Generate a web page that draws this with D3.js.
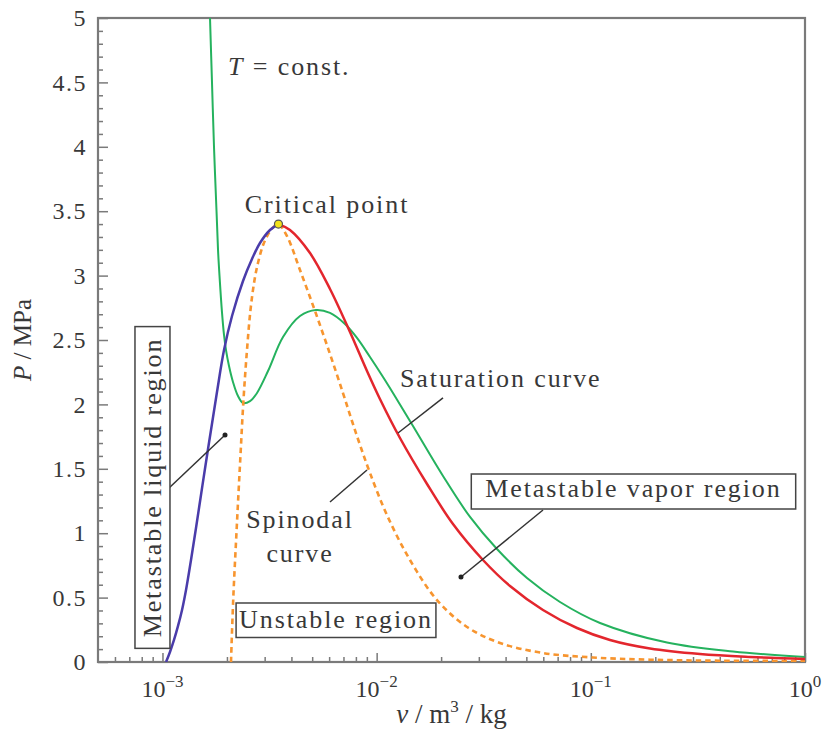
<!DOCTYPE html>
<html><head><meta charset="utf-8">
<script src="https://cdn.jsdelivr.net/npm/d3@7"></script>
<style>
body{margin:0;background:#fff;}
svg text{font-family:"Liberation Serif","Times New Roman",serif;fill:#383838;}
</style></head><body>
<svg id="chart" width="827" height="740"></svg>
<script>
// ---------------- data (v in m^3/kg, P in MPa) ----------------
const xTickExponents = [-3, -2, -1, 0];
const yTickValues = [0, 0.5, 1, 1.5, 2, 2.5, 3, 3.5, 4, 4.5, 5];
const criticalPoint = [3.48e-3, 3.40];

const saturatedLiquid = [
  [1.039e-3,0],[1.084e-3,0.078],[1.132e-3,0.171],[1.182e-3,0.280],[1.234e-3,0.404],
  [1.288e-3,0.559],[1.359e-3,0.792],[1.434e-3,1.040],[1.513e-3,1.297],[1.597e-3,1.553],
  [1.685e-3,1.801],[1.797e-3,2.096],[1.938e-3,2.422],[2.112e-3,2.686],[2.377e-3,2.958],
  [2.618e-3,3.129],[2.853e-3,3.253],[3.177e-3,3.354],[3.48e-3,3.40]
];
const saturatedVapor = [
  [3.48e-3,3.40],[3.939e-3,3.354],[4.884e-3,3.175],[6.056e-3,2.896],[7.508e-3,2.562],
  [9.015e-3,2.259],[1.036e-2,2.042],[1.285e-2,1.739],[1.719e-2,1.382],[2.272e-2,1.071],
  [3.137e-2,0.792],[4.194e-2,0.590],[5.980e-2,0.404],[8.617e-2,0.264],[0.1229,0.171],
  [0.1889,0.105],[0.3234,0.062],[0.5536,0.039],[1.0,0.023]
];
const spinodal = [
  [2.089e-3,0],[2.139e-3,0.481],[2.219e-3,1.025],[2.307e-3,1.568],[2.389e-3,2.034],
  [2.481e-3,2.422],[2.576e-3,2.733],[2.690e-3,2.966],[2.814e-3,3.121],[2.963e-3,3.245],
  [3.160e-3,3.339],[3.336e-3,3.385],[3.48e-3,3.40],[3.814e-3,3.307],[4.387e-3,3.043],
  [5.155e-3,2.725],[6.056e-3,2.391],[6.964e-3,2.088],[7.671e-3,1.871],[8.362e-3,1.685],
  [9.311e-3,1.467],[1.117e-2,1.141],[1.431e-2,0.792],[1.913e-2,0.481],[2.642e-2,0.272],
  [3.766e-2,0.148],[5.980e-2,0.070],[0.1023,0.035],[0.1889,0.018],[0.401,0.010],[1.0,0.008]
];
const isotherm = [
  [1.667e-3,5.0],[1.703e-3,4.5],[1.740e-3,4.0],[1.788e-3,3.5],[1.817e-3,3.2],
  [1.846e-3,3.0],[1.897e-3,2.710],[1.938e-3,2.539],[1.980e-3,2.422],[2.045e-3,2.298],
  [2.134e-3,2.174],[2.252e-3,2.065],[2.377e-3,2.011],[2.563e-3,2.026],[2.763e-3,2.089],
  [3.110e-3,2.259],[3.654e-3,2.523],[4.387e-3,2.686],[5.209e-3,2.733],[6.056e-3,2.710],
  [7.115e-3,2.624],[8.095e-3,2.516],[9.311e-3,2.368],[1.071e-2,2.213],[1.192e-2,2.089],
  [1.478e-2,1.832],[2.041e-2,1.444],[2.729e-2,1.126],[3.646e-2,0.877],[5.035e-2,0.652],
  [7.179e-2,0.466],[0.1104,0.303],[0.2268,0.151],[0.4611,0.081],[1.0,0.039]
];
// annotation texts
const labelTexts = {
  tconst: " = const.",
  critical: "Critical point",
  saturation: "Saturation curve",
  spinodal1: "Spinodal",
  spinodal2: "curve",
  unstable: "Unstable region",
  vapor: "Metastable vapor region",
  liquid: "Metastable liquid region"
};

// ---------------- chart ----------------
const svg = d3.select("#chart");
const X0 = 98, X1 = 805, Y0 = 662, Y1 = 18;
const x = d3.scaleLog().domain([5e-4, 1]).range([X0, X1]);
const y = d3.scaleLinear().domain([0, 5]).range([Y0, Y1]);
const axisColor = "#7a7a7a";

svg.append("defs").append("clipPath").attr("id","clip")
  .append("rect").attr("x",X0).attr("y",Y1).attr("width",X1-X0).attr("height",Y0-Y1);

const xMinor = [];
for (let k = -4; k <= -1; k++) for (let m = 2; m <= 9; m++) {
  const v = m * Math.pow(10, k);
  if (v > 5e-4 && v < 1) xMinor.push(v);
}
const yMinor = d3.range(0, 51).map(i => i / 10).filter(v => Math.round(v*10) % 5 !== 0);

function styleAxis(g){
  g.select(".domain").remove();
  g.selectAll(".tick line").attr("stroke", axisColor).attr("stroke-width", 1.5);
}
svg.append("g").attr("transform",`translate(0,${Y0})`)
  .call(d3.axisBottom(x).tickValues(xMinor).tickSize(-5).tickFormat(""))
  .call(styleAxis);
svg.append("g").attr("transform",`translate(0,${Y0})`)
  .call(d3.axisBottom(x).tickValues(xTickExponents.map(e => Math.pow(10,e))).tickSize(-9).tickFormat(""))
  .call(styleAxis);
svg.append("g").attr("transform",`translate(${X0},0)`)
  .call(d3.axisLeft(y).tickValues(yMinor).tickSize(-5).tickFormat(""))
  .call(styleAxis);
const yAx = svg.append("g").attr("transform",`translate(${X0},0)`)
  .call(d3.axisLeft(y).tickValues(yTickValues).tickSize(-10).tickPadding(11).tickFormat(d => String(d)))
  .call(styleAxis);
yAx.selectAll(".tick text").attr("font-size",24).attr("fill","#383838").style("letter-spacing","1.5px");

// x tick labels with superscripts
xTickExponents.forEach(e => {
  const t = svg.append("text").attr("x", x(Math.pow(10,e))).attr("y", 697)
    .attr("text-anchor","middle").attr("font-size",24);
  t.append("tspan").text("10");
  t.append("tspan").attr("dy",-10).attr("font-size",17).text(e < 0 ? "\u2212" + (-e) : String(e));
});

// frame
svg.append("rect").attr("x",X0).attr("y",Y1).attr("width",X1-X0).attr("height",Y0-Y1)
  .attr("fill","none").attr("stroke",axisColor).attr("stroke-width",2.2);

// axis titles
const yt = svg.append("text").attr("transform",`translate(31,${(Y0+Y1)/2}) rotate(-90)`)
  .attr("text-anchor","middle").attr("font-size",25);
yt.append("tspan").attr("font-style","italic").text("P");
yt.append("tspan").text(" / MPa");
const xt = svg.append("text").attr("x",(X0+X1)/2).attr("y",723).attr("text-anchor","middle").attr("font-size",27);
xt.append("tspan").attr("font-style","italic").text("v");
xt.append("tspan").text(" / m");
xt.append("tspan").attr("dy",-11).attr("font-size",17).text("3");
xt.append("tspan").attr("dy",11).text(" / kg");

// curves
const line = d3.line().x(d => x(d[0])).y(d => y(d[1])).curve(d3.curveCatmullRom.alpha(0.5));
const plot = svg.append("g").attr("clip-path","url(#clip)");
plot.append("path").datum(isotherm).attr("d",line).attr("fill","none")
  .attr("stroke","#25b25e").attr("stroke-width",2);
plot.append("path").datum(spinodal).attr("d",line).attr("fill","none")
  .attr("stroke","#f7952f").attr("stroke-width",2.6).attr("stroke-dasharray","5.5,4");
plot.append("path").datum(saturatedLiquid).attr("d",line).attr("fill","none")
  .attr("stroke","#4a3caa").attr("stroke-width",2.5);
plot.append("path").datum(saturatedVapor).attr("d",line).attr("fill","none")
  .attr("stroke","#e3262d").attr("stroke-width",2.5);
svg.append("circle").attr("cx",x(criticalPoint[0])).attr("cy",y(criticalPoint[1])).attr("r",4)
  .attr("fill","#f2e21a").attr("stroke","#555").attr("stroke-width",1.2);

// pointer lines (data coords)
const pointers = [
  {from:[1.061e-3,1.343], to:[1.959e-3,1.762], dot:true},
  {from:[2.041e-2,2.05], to:[1.258e-2,1.778], dot:false},
  {from:[6.056e-3,1.242], to:[9.015e-3,1.491], dot:false},
  {from:[5.98e-2,1.18], to:[2.476e-2,0.66], dot:true}
];
pointers.forEach(p => {
  svg.append("line").attr("x1",x(p.from[0])).attr("y1",y(p.from[1]))
    .attr("x2",x(p.to[0])).attr("y2",y(p.to[1])).attr("stroke","#333").attr("stroke-width",1.5);
  if (p.dot) svg.append("circle").attr("cx",x(p.to[0])).attr("cy",y(p.to[1])).attr("r",2.5).attr("fill","#222");
});

// text labels
const FS = 26, LS = "1.9px";
function label(txt, v, P, anchor){
  return svg.append("text").attr("x",x(v)).attr("y",y(P)).attr("text-anchor",anchor||"start")
    .attr("font-size",FS).style("letter-spacing",LS).text(txt);
}
const tc = svg.append("text").attr("x",x(2.023e-3)).attr("y",y(4.557)).attr("font-size",FS).style("letter-spacing",LS);
tc.append("tspan").attr("font-style","italic").text("T");
tc.append("tspan").text(labelTexts.tconst);
label(labelTexts.critical, 5.864e-3, 3.486, "middle");
label(labelTexts.saturation, 1.285e-2, 2.135);
label(labelTexts.spinodal1, 4.387e-3, 1.04, "middle");
label(labelTexts.spinodal2, 4.387e-3, 0.776, "middle");

function boxed(t, padX, padTop, padBottom){
  const b = t.node().getBBox();
  const parent = d3.select(t.node().parentNode);
  parent.insert("rect", () => t.node())
    .attr("x", b.x - padX).attr("y", b.y - padTop)
    .attr("width", b.width + 2*padX).attr("height", b.height + padTop + padBottom)
    .attr("fill","#fff").attr("stroke","#444").attr("stroke-width",1.5);
}
const gu = svg.append("g");
const tu = gu.append("text").attr("x",x(6.46e-3)).attr("y",y(0.264)).attr("text-anchor","middle")
  .attr("font-size",FS).style("letter-spacing",LS).text(labelTexts.unstable);
boxed(tu, 3, 2, 3.5);
const gv = svg.append("g");
const tv = gv.append("text").attr("x",x(0.1582)).attr("y",y(1.281)).attr("text-anchor","middle")
  .attr("font-size",FS).style("letter-spacing",LS).text(labelTexts.vapor);
boxed(tv, 14, 0, 6);
const gl = svg.append("g").attr("transform",`translate(${x(9.84e-4)},${y(1.355)}) rotate(-90)`);
const tl = gl.append("text").attr("x",0).attr("y",0).attr("text-anchor","middle")
  .attr("font-size",FS).style("letter-spacing",LS).text(labelTexts.liquid);
boxed(tl, 11, 3, 3);
</script></body></html>
